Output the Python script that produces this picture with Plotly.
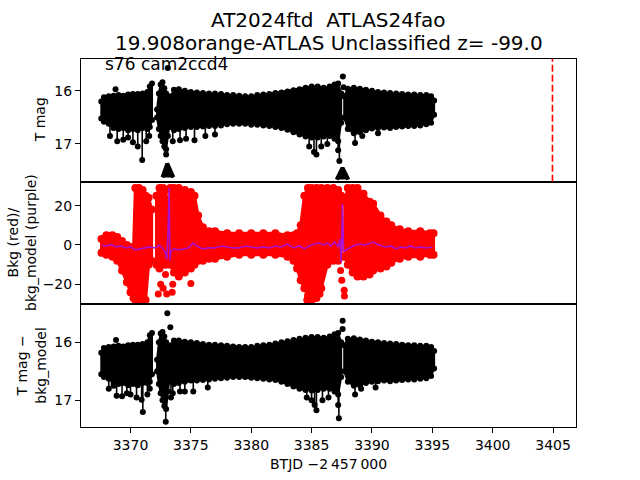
import plotly.graph_objects as go
from plotly.subplots import make_subplots

# ---------------- data ----------------
# time grids of the four observing chunks (BTJD - 2457000)
segA_t = [3367.58, 3367.8, 3368.2, 3368.6, 3369.0, 3369.4, 3369.8, 3370.2, 3370.6, 3371.0, 3371.4, 3371.6, 3371.78]
segB_t = [3372.2, 3372.35, 3372.5, 3372.65, 3372.8, 3372.95, 3373.1, 3373.25]
segC_t = [3373.35, 3373.6, 3374.0, 3374.5, 3375.0, 3375.5, 3376.0, 3376.5, 3377.0, 3377.5, 3378.0, 3378.5,
          3379.0, 3379.5, 3380.0, 3380.5, 3381.0, 3381.5, 3382.0, 3382.5, 3383.0, 3383.5, 3384.0, 3384.5,
          3385.0, 3385.5, 3386.0, 3386.5, 3386.9, 3387.2, 3387.45]
segD_t = [3387.7, 3388.0, 3388.5, 3389.0, 3389.5, 3390.0, 3390.5, 3391.0, 3391.5, 3392.0, 3392.5, 3393.0,
          3393.5, 3394.0, 3394.5, 3394.9, 3395.15]

# Panel 1: T mag envelope (bright edge / faint edge)
p1A_top = [16.20, 16.12, 16.10, 16.09, 16.08, 16.09, 16.07, 16.06, 16.06, 16.05, 16.02, 15.92, 15.86]
p1A_bot = [16.52, 16.58, 16.62, 16.70, 16.72, 16.70, 16.74, 16.72, 16.74, 16.70, 16.72, 16.68, 16.55]
p1B_top = [16.35, 16.05, 15.88, 15.84, 15.95, 16.05, 16.12, 16.20]
p1B_bot = [16.50, 16.72, 16.85, 16.95, 17.05, 17.10, 16.85, 16.60]
p1C_top = [16.10, 15.98, 15.97, 16.00, 16.02, 16.03, 16.04, 16.05, 16.05, 16.06, 16.08, 16.08, 16.09, 16.10,
           16.10, 16.08, 16.07, 16.06, 16.04, 16.03, 16.01, 15.99, 15.97, 15.94, 15.92, 15.92, 15.94, 15.92,
           15.88, 15.86, 16.05]
p1C_bot = [16.68, 16.74, 16.72, 16.70, 16.68, 16.68, 16.67, 16.66, 16.66, 16.65, 16.63, 16.62, 16.62, 16.62,
           16.64, 16.64, 16.65, 16.66, 16.68, 16.70, 16.73, 16.78, 16.82, 16.86, 16.88, 16.88, 16.86, 16.85,
           16.90, 16.95, 16.60]
p1D_top = [16.10, 15.96, 15.94, 15.96, 15.98, 16.00, 16.02, 16.03, 16.04, 16.05, 16.06, 16.07, 16.07, 16.08,
           16.08, 16.10, 16.18]
p1D_bot = [16.50, 16.72, 16.80, 16.78, 16.74, 16.71, 16.70, 16.69, 16.70, 16.68, 16.67, 16.66, 16.66, 16.65,
           16.63, 16.60, 16.45]
p1_spike_t = [3368.3, 3368.9, 3369.4, 3369.8, 3370.2, 3370.6, 3370.97, 3371.3, 3371.55, 3372.95, 3373.5,
              3374.1, 3374.6, 3375.3, 3376.2, 3377.0, 3384.8, 3385.2, 3385.4, 3385.8, 3386.3, 3387.3, 3387.2,
              3388.6, 3389.2, 3390.5]
p1_spike_mag = [16.85, 16.95, 16.92, 16.88, 16.97, 17.05, 17.30, 16.95, 16.85, 17.20, 16.95,
                16.93, 16.90, 16.93, 16.85, 16.82, 17.05, 17.15, 17.20, 17.05, 17.00, 17.32, 17.12,
                16.98, 16.85, 16.80]
p1_out_t = [3368.76, 3373.09, 3387.59, 3387.65]
p1_out_mag = [15.97, 15.57, 15.73, 15.93]
p1_clump1_t = [3372.65, 3372.85, 3373.05, 3373.3, 3373.55]
p1_clump1_mag = [17.63, 17.50, 17.37, 17.50, 17.63]
p1_clump2_t = [3387.08, 3387.3, 3387.56, 3387.8, 3388.04]
p1_clump2_mag = [17.67, 17.56, 17.45, 17.56, 17.67]

# Panel 2: background (red) envelope and model (purple)
bkgA_t = [3367.6, 3368.0, 3368.5, 3368.9, 3369.3, 3369.7, 3370.0, 3370.25, 3370.4, 3370.7, 3371.0, 3371.25, 3371.5, 3371.75]
bkgA_top = [3, 5, 5, 4, 2, 0, -1, -2, 29, 29, 28, 25, 24, 18]
bkgA_bot = [-4, -5, -6, -8, -13, -19, -24, -27, -28, -28, -28, -28, -10, -8]
bkgB_t = [3372.15, 3372.4, 3372.7, 3372.9, 3373.1]
bkgB_top = [25, 29, 29, 28, 20]
bkgB_bot = [-10, -12, -8, -10, -8]
bkgC_t = [3373.3, 3373.6, 3374.0, 3374.5, 3375.0, 3375.3, 3375.6, 3376.0, 3376.5, 3377.0, 3378.0, 3379.0,
          3380.0, 3381.0, 3382.0, 3383.0, 3383.5, 3383.8, 3384.1, 3384.4, 3384.7, 3385.0, 3385.4, 3385.8,
          3386.3, 3386.8, 3387.2, 3387.45]
bkgC_top = [29, 29, 29, 28, 27, 25, 15, 9, 7, 7, 6, 6, 6, 6, 6, 5, 5, 6, 10, 25, 29, 29, 29, 29, 29, 29, 28, 25]
bkgC_bot = [-10, -14, -16, -14, -12, -10, -8, -8, -7, -7, -6, -5, -5, -5, -5, -6, -8, -12, -18, -22, -26,
            -28, -27, -22, -10, -8, -8, -6]
bkgD_t = [3387.75, 3388.0, 3388.4, 3388.8, 3389.3, 3389.8, 3390.1, 3390.7, 3391.2, 3391.6, 3392.3, 3393.0,
          3394.0, 3394.8, 3395.1]
bkgD_top = [22, 29, 29, 29, 26, 22, 21, 15, 12, 10, 8, 7, 7, 6, 6]
bkgD_bot = [-6, -10, -14, -16, -16, -15, -13, -12, -11, -9, -7, -6, -6, -5, -5]
bkg_dot_t = [3372.3, 3372.5, 3372.7, 3372.9, 3373.0, 3373.45, 3373.5, 3375.0, 3387.4, 3387.5, 3387.7,
             3387.72, 3388.9, 3384.6, 3385.7]
bkg_dot_val = [-25, -20, -22, -15, -25, -24, -20, -19.6, -13, -18, -23, -26, -16, -28, -25]

model_t = [3367.6, 3368.0, 3368.4, 3368.8, 3369.2, 3369.6, 3370.0, 3370.4, 3370.8, 3371.2, 3371.6, 3372.0,
           3372.4, 3372.7, 3372.9, 3373.0, 3373.1, 3373.2, 3373.27, 3373.35, 3373.6, 3374.0, 3374.4, 3374.8,
           3375.2, 3375.5, 3376.0, 3376.5, 3377.0, 3377.5, 3378.0, 3378.5, 3379.0, 3379.5, 3380.0, 3380.5,
           3381.0, 3381.5, 3382.0, 3382.5, 3383.0, 3383.5, 3384.0, 3384.4, 3384.8, 3385.2, 3385.6, 3386.0,
           3386.3, 3386.6, 3386.9, 3387.2, 3387.35, 3387.45, 3387.55, 3387.65, 3387.8, 3388.0, 3388.3, 3388.6,
           3389.0, 3389.4, 3389.8, 3390.1, 3390.4, 3390.8, 3391.2, 3391.6, 3392.0, 3392.4, 3392.8, 3393.2,
           3393.6, 3394.0, 3394.5, 3395.0]
model_val = [0, -0.5, 0.3, -1, -0.5, -1.5, -1, -2.5, -2, -1.5, -1, -1.5,
             0, -2, -4, -7.5, 5, 29, -8, -3, -2, -2.5, -2, -1.5,
             1, -0.5, -2, -1.5, -1.5, -0.5, -1, -1.5, -1.5, -0.5, -1.0, -1.5,
             -1.0, -1.5, -0.5, -1.0, 0.5, -1.5, -0.5, -2, -0.5, 0.5, 1.0, 0,
             1, -0.5, 1.5, -1, 3, -8.8, 20.8, -3, -3, -2, -1, 0,
             0.5, 0, 0.8, 1.5, 0.5, -0.5, -1, -0.5, -2, -1, -1.5, -0.5,
             -1.5, -1, -1.5, -1]

# Panel 3: T mag - bkg_model envelope
p3A_top = [16.18, 16.10, 16.08, 16.07, 16.06, 16.07, 16.05, 16.04, 16.04, 16.03, 16.00, 15.88, 15.84]
p3A_bot = [16.55, 16.60, 16.63, 16.70, 16.72, 16.70, 16.74, 16.72, 16.74, 16.70, 16.70, 16.68, 16.55]
p3B_top = [16.30, 16.00, 15.85, 15.82, 15.90, 16.00, 16.08, 16.15]
p3B_bot = [16.50, 16.72, 16.88, 17.00, 17.10, 17.15, 16.85, 16.60]
p3C_top = [16.05, 15.97, 15.97, 15.99, 16.00, 16.01, 16.03, 16.04, 16.04, 16.05, 16.06, 16.07, 16.08, 16.08,
           16.08, 16.06, 16.05, 16.04, 16.02, 16.00, 15.98, 15.96, 15.94, 15.92, 15.91, 15.91, 15.92, 15.90,
           15.86, 15.84, 16.00]
p3C_bot = [16.68, 16.72, 16.70, 16.68, 16.66, 16.66, 16.65, 16.64, 16.63, 16.62, 16.61, 16.60, 16.60, 16.60,
           16.61, 16.62, 16.63, 16.64, 16.65, 16.68, 16.72, 16.76, 16.80, 16.82, 16.83, 16.82, 16.80, 16.80,
           16.85, 16.90, 16.60]
p3D_top = [16.05, 15.94, 15.93, 15.95, 15.97, 15.99, 16.00, 16.01, 16.02, 16.03, 16.04, 16.05, 16.05, 16.06,
           16.06, 16.08, 16.15]
p3D_bot = [16.50, 16.68, 16.75, 16.74, 16.70, 16.68, 16.67, 16.66, 16.67, 16.66, 16.65, 16.64, 16.64, 16.63,
           16.62, 16.58, 16.45]
p3_spike_t = [3368.2, 3368.6, 3368.85, 3369.3, 3369.7, 3370.0, 3370.5, 3370.92, 3371.02, 3371.4, 3371.6,
              3372.92, 3372.85, 3373.35, 3373.5, 3374.1, 3374.5, 3375.2, 3376.4, 3384.6, 3385.0, 3385.25,
              3385.4, 3385.9, 3386.4, 3387.26, 3387.2, 3388.6, 3389.1, 3390.3]
p3_spike_mag = [16.80, 16.75, 16.92, 16.93, 16.88, 16.90, 16.95, 16.99, 17.20, 16.90, 16.80,
                17.37, 17.00, 16.95, 16.88, 16.85, 16.85, 16.85, 16.78, 16.95, 17.00, 17.08,
                17.17, 17.00, 16.95, 17.31, 17.08, 16.90, 16.80, 16.78]
p3_out_t = [3368.8, 3373.05, 3373.3, 3387.57, 3387.57]
p3_out_mag = [15.96, 15.50, 15.74, 15.63, 15.77]

marker_line_t = 3404.95
x_ticks = [3370, 3375, 3380, 3385, 3390, 3395, 3400, 3405]

title1 = "AT2024ftd  ATLAS24fao"
title2 = "19.908orange-ATLAS Unclassified z= -99.0"
sector_label = "s76 cam2ccd4"


# ---------------- helpers ----------------
def polygons(segments):
    xs, ys = [], []
    for t, top, bot in segments:
        xs += list(t) + list(reversed(t)) + [t[0], None]
        ys += list(top) + list(reversed(bot)) + [top[0], None]
    return xs, ys


def edge_points(segments):
    xs, ys = [], []
    for t, top, bot in segments:
        xs += list(t) + list(t)
        ys += list(top) + list(bot)
    return xs, ys


def spikes(ts, vals, base):
    xs, ys = [], []
    for t, v in zip(ts, vals):
        xs += [t, t, None]
        ys += [base, v, None]
    return xs, ys


FONT = "DejaVu Sans"
fig = make_subplots(rows=3, cols=1, shared_xaxes=True, vertical_spacing=0)

p1_segments = [(segA_t, p1A_top, p1A_bot), (segB_t, p1B_top, p1B_bot),
               (segC_t, p1C_top, p1C_bot), (segD_t, p1D_top, p1D_bot)]
p3_segments = [(segA_t, p3A_top, p3A_bot), (segB_t, p3B_top, p3B_bot),
               (segC_t, p3C_top, p3C_bot), (segD_t, p3D_top, p3D_bot)]
bkg_segments = [(bkgA_t, bkgA_top, bkgA_bot), (bkgB_t, bkgB_top, bkgB_bot),
                (bkgC_t, bkgC_top, bkgC_bot), (bkgD_t, bkgD_top, bkgD_bot)]


def add_band(segs, color, lw, msize, row, spike_t=None, spike_v=None, out_t=None, out_v=None):
    x, y = polygons(segs)
    fig.add_trace(go.Scatter(x=x, y=y, fill="toself", fillcolor=color, mode="lines",
                             line=dict(color=color, width=lw)), row=row, col=1)
    ex, ey = edge_points(segs)
    fig.add_trace(go.Scatter(x=ex, y=ey, mode="markers",
                             marker=dict(color=color, size=msize, line=dict(width=0))), row=row, col=1)
    if spike_t:
        sx, sy = spikes(spike_t, spike_v, 16.6)
        fig.add_trace(go.Scatter(x=sx, y=sy, mode="lines", line=dict(color=color, width=1.6)), row=row, col=1)
        fig.add_trace(go.Scatter(x=spike_t + out_t, y=spike_v + out_v, mode="markers",
                                 marker=dict(color=color, size=6)), row=row, col=1)


# ---- panel 1 ----
add_band(p1_segments, "black", 2, 6, 1, p1_spike_t, p1_spike_mag, p1_out_t, p1_out_mag)
fig.add_trace(go.Scatter(x=p1_clump1_t + [None] + p1_clump2_t, y=p1_clump1_mag + [None] + p1_clump2_mag,
                         fill="toself", fillcolor="black", mode="lines",
                         line=dict(color="black", width=4)), row=1, col=1)
fig.add_vline(x=marker_line_t, row=1, col=1, line=dict(color="red", width=1.6, dash="7px,3px"))

# ---- panel 2 ----
add_band(bkg_segments, "red", 3, 8, 2)
fig.add_trace(go.Scatter(x=bkg_dot_t, y=bkg_dot_val, mode="markers",
                         marker=dict(color="red", size=7)), row=2, col=1)
fig.add_trace(go.Scatter(x=model_t, y=model_val, mode="lines",
                         line=dict(color="#aa10cc", width=1.6)), row=2, col=1)

# ---- panel 3 ----
add_band(p3_segments, "black", 2, 6, 3, p3_spike_t, p3_spike_mag, p3_out_t, p3_out_mag)

# ---- axes ----
axis_common = dict(showline=True, linecolor="black", linewidth=1, mirror=True, showgrid=False,
                   zeroline=False, tickfont=dict(family=FONT, size=14, color="black"),
                   ticks="outside", ticklen=5, tickwidth=1, tickcolor="black")
for r in (1, 2, 3):
    fig.update_xaxes(range=[3365.9, 3406.9], row=r, col=1, **axis_common)
fig.update_xaxes(ticks="", showticklabels=False, row=1, col=1)
fig.update_xaxes(ticks="", showticklabels=False, row=2, col=1)
fig.update_xaxes(tickvals=x_ticks, row=3, col=1)
fig.update_yaxes(range=[17.71, 15.40], tickvals=[16, 17], row=1, col=1, **axis_common)
fig.update_yaxes(range=[-30.2, 32.2], tickvals=[-20, 0, 20], ticktext=["\u221220", "0", "20"],
                 row=2, col=1, **axis_common)
fig.update_yaxes(range=[17.46, 15.345], tickvals=[16, 17], row=3, col=1, **axis_common)

# ---- text ----
ann = [
    dict(text=title1, x=0.5, y=1, yshift=39, font=dict(size=20)),
    dict(text=title2, x=0.5, y=1, yshift=16, font=dict(size=20)),
    dict(text=sector_label, x=0.045, xanchor="left", y=1, yshift=-5, font=dict(size=17)),
    dict(text="BTJD \u22122\u2009457\u2009000", x=0.5, y=0, yshift=-37, font=dict(size=14)),
    dict(text="T mag", x=0, xshift=-41, y=5 / 6, textangle=-90, font=dict(size=14)),
    dict(text="Bkg (red)/<br>bkg_model (purple)", x=0, xshift=-59, y=0.5, textangle=-90, font=dict(size=14)),
    dict(text="T mag \u2212<br>bkg_model", x=0, xshift=-50, y=1 / 6, textangle=-90, font=dict(size=14)),
]
for a in ann:
    a.setdefault("xanchor", "center")
    a["yanchor"] = "middle"
    a["xref"] = "paper"
    a["yref"] = "paper"
    a["showarrow"] = False
    a["font"] = dict(family=FONT, color="black", **a["font"])
    fig.add_annotation(**a)

fig.update_layout(width=640, height=480, showlegend=False, plot_bgcolor="white", paper_bgcolor="white",
                  margin=dict(l=81, r=64, t=59, b=53), font=dict(family=FONT, color="black"))
fig.write_html("out.html", config={"displayModeBar": False},
               post_script="document.body.style.margin='0';")
